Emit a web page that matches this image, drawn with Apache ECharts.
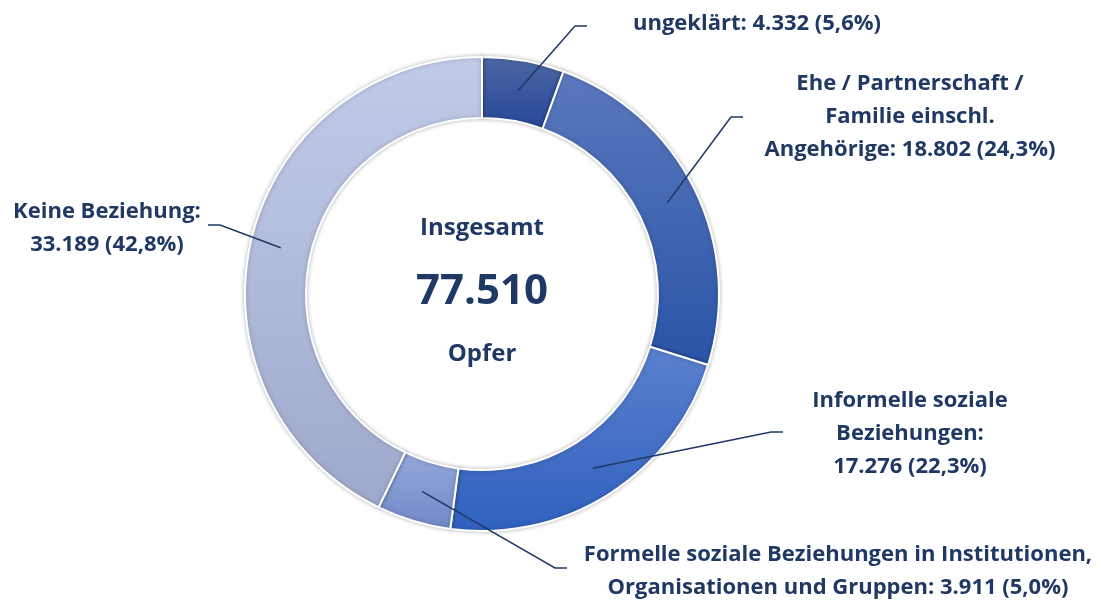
<!DOCTYPE html>
<html>
<head>
<meta charset="utf-8">
<script src="https://cdn.jsdelivr.net/npm/echarts@6/dist/echarts.min.js"></script>
<style>
  html, body { margin: 0; background: #fff; }
  #chart { width: 1101px; height: 601px; }
</style>
</head>
<body>
<div id="chart"></div>
<script>
// data, clockwise from 12 o'clock
const categories = [
    'ungeklärt',
    'Ehe / Partnerschaft /\nFamilie einschl.\nAngehörige',
    'Informelle soziale\nBeziehungen',
    'Formelle soziale Beziehungen in Institutionen,\nOrganisationen und Gruppen',
    'Keine Beziehung'
];
const values = [4332, 18802, 17276, 3911, 33189];
const valueOnNewLine = [false, false, true, false, true];
const centerTitle = 'Insgesamt';
const centerUnit = 'Opfer';

// styles
const topColors = ['#4d67a2', '#5a78bd', '#5b80cd', '#95a8da', '#c1cbe8'];
const bottomColors = ['#26489a', '#2a54a6', '#2f61bf', '#7089c7', '#9ea8cc'];
const textColor = '#203864';
const font = '"Open Sans", "Noto Sans", sans-serif';

const cx = 482, cy = 294, innerR = 176, outerR = 237;
const midR = (innerR + outerR) / 2;

// label anchor (center of text block) and end of the leader line
const labelPos = [[757, 24], [910, 117], [910, 434], [838, 571], [107, 228]];
const lineEnds = [[587, 26], [743, 117], [783, 432], [567, 568], [208, 225]];

const total = values.reduce((a, b) => a + b, 0);
const fmt = n => String(n).replace(/\B(?=(\d{3})+(?!\d))/g, '.');
const pct = v => (v / total * 100).toFixed(1).replace('.', ',');

// mid angles of the slices for the leader line start
const midAngles = [];
let acc = 0;
values.forEach(v => {
    midAngles.push((acc + v / 2) / total * Math.PI * 2);
    acc += v;
});

const pieData = (withColor) => categories.map((name, i) => ({
    name: name,
    value: values[i],
    itemStyle: withColor ? {
        color: new echarts.graphic.LinearGradient(0, 0, 0, 1, [
            { offset: 0, color: topColors[i] },
            { offset: 1, color: bottomColors[i] }
        ])
    } : { color: 'rgba(0,0,0,0)' }
}));

const chart = echarts.init(document.getElementById('chart'));

const option = {
    backgroundColor: '#fff',
    animation: false,
    graphic: [
        { type: 'text', x: cx, y: 228, style: { text: centerTitle, align: 'center', verticalAlign: 'middle', fill: textColor, font: 'bold 24px ' + font } },
        { type: 'text', x: cx, y: 292, style: { text: fmt(total), align: 'center', verticalAlign: 'middle', fill: textColor, font: 'bold 42px ' + font } },
        { type: 'text', x: cx, y: 354, style: { text: centerUnit, align: 'center', verticalAlign: 'middle', fill: textColor, font: 'bold 24px ' + font } }
    ],
    series: [
        {
            // the ring
            type: 'pie',
            z: 2,
            center: [cx, cy],
            radius: [innerR, outerR],
            startAngle: 90,
            clockwise: true,
            itemStyle: {
                borderColor: '#fff',
                borderWidth: 2,
                shadowBlur: 4,
                shadowColor: 'rgba(0,0,0,0.25)'
            },
            label: { show: false },
            labelLine: { show: false },
            emphasis: { disabled: true },
            data: pieData(true)
        },
        {
            // labels and leader lines, drawn on top of the ring
            type: 'pie',
            z: 3,
            silent: true,
            center: [cx, cy],
            radius: [innerR, outerR],
            startAngle: 90,
            clockwise: true,
            avoidLabelOverlap: false,
            label: {
                show: true,
                position: 'outside',
                color: textColor,
                fontFamily: font,
                fontWeight: 'bold',
                fontSize: 22,
                lineHeight: 33,
                align: 'center',
                formatter: p => p.name + ':' + (valueOnNewLine[p.dataIndex] ? '\n' : ' ') +
                    fmt(p.value) + ' (' + pct(p.value) + '%)'
            },
            labelLine: {
                show: true,
                lineStyle: { color: textColor, width: 1.5 }
            },
            labelLayout: function (p) {
                const i = p.dataIndex;
                const a = midAngles[i];
                const start = [cx + midR * Math.sin(a), cy - midR * Math.cos(a)];
                const end = lineEnds[i];
                const knee = [end[0] + (end[0] < cx ? 12 : -12), end[1]];
                return {
                    x: labelPos[i][0],
                    y: labelPos[i][1],
                    align: 'center',
                    verticalAlign: 'middle',
                    labelLinePoints: [start, knee, end]
                };
            },
            emphasis: { disabled: true },
            data: pieData(false)
        }
    ]
};

chart.setOption(option);
</script>
</body>
</html>
